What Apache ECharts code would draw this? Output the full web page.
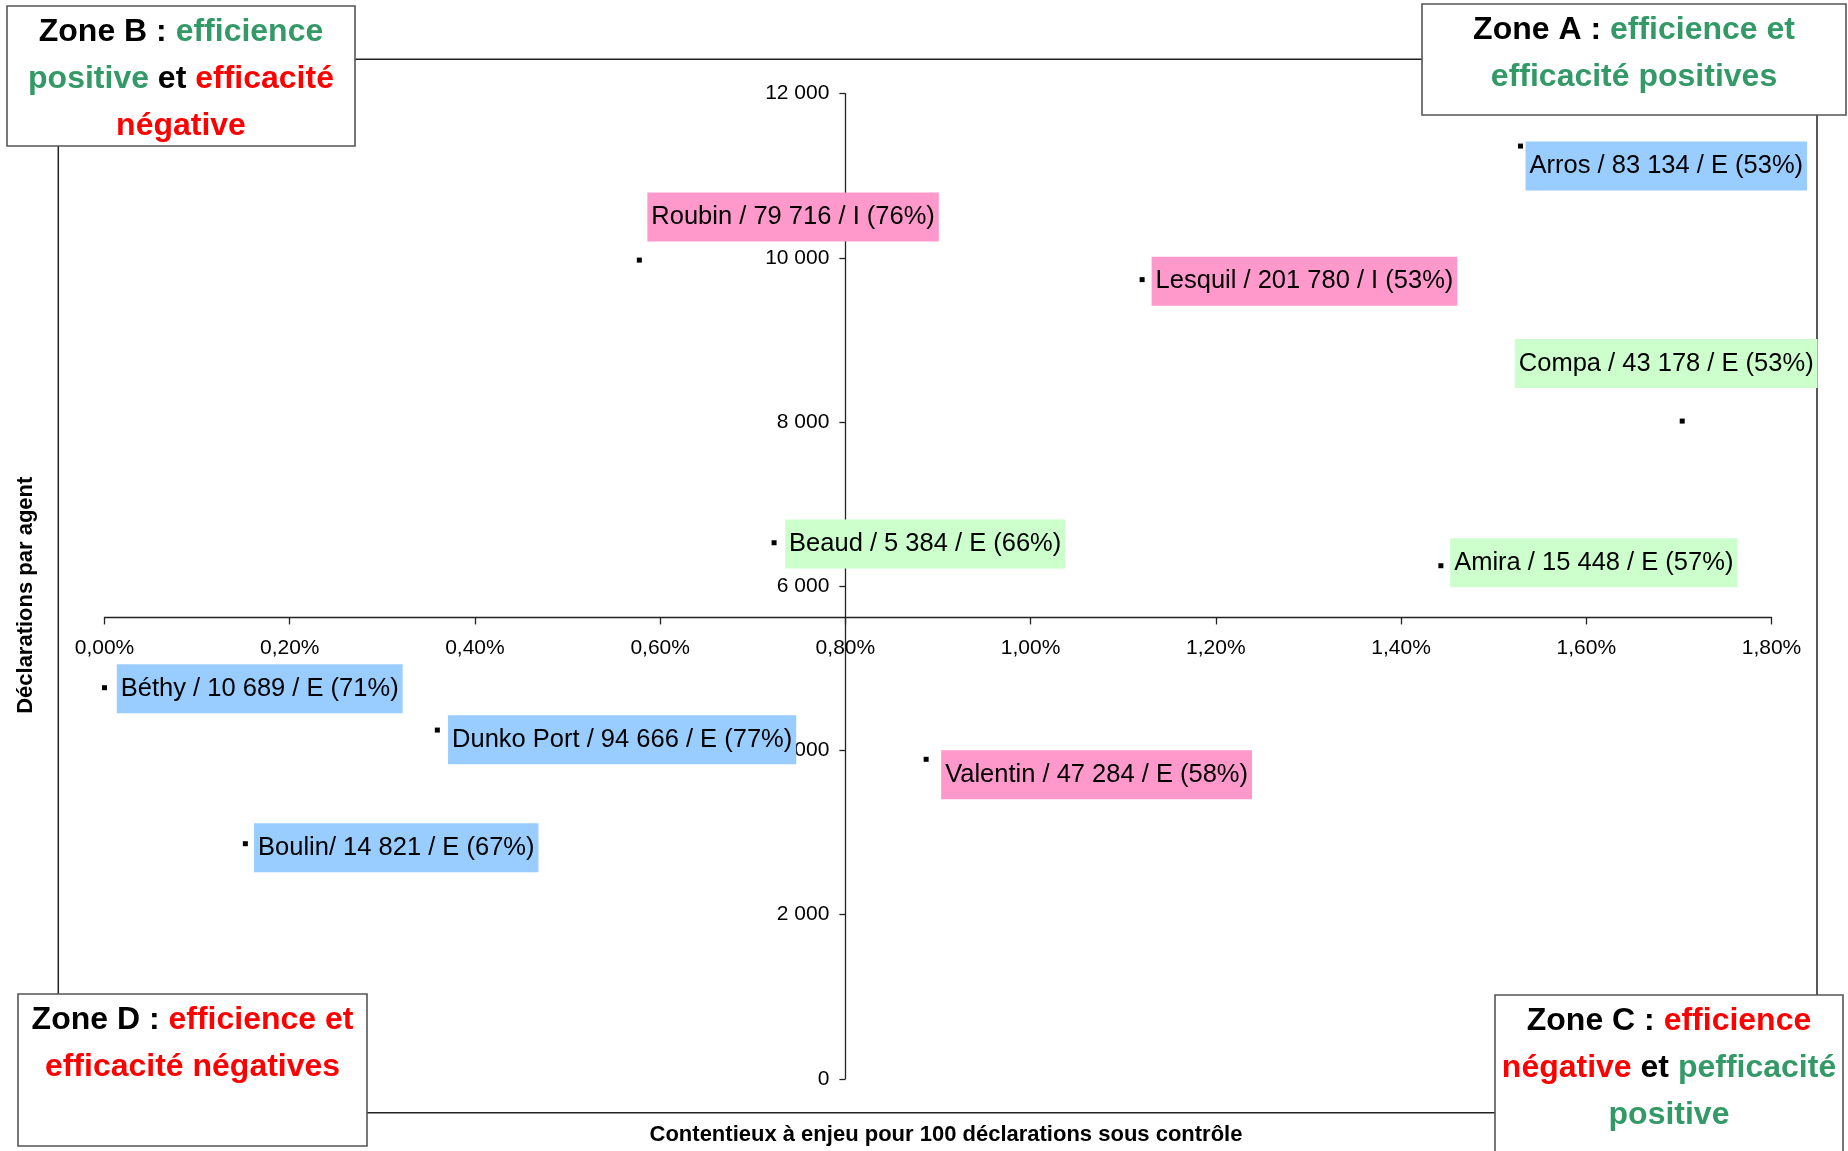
<!DOCTYPE html>
<html>
<head>
<meta charset="utf-8">
<script src="https://cdn.jsdelivr.net/npm/echarts@6/dist/echarts.min.js"></script>
<style>
  html, body { margin: 0; padding: 0; background: #fff; }
  #chart { width: 1848px; height: 1151px; }
</style>
</head>
<body>
<div id="chart"></div>
<script>
// Sites: contentieux à enjeu (%) vs déclarations par agent
const sites = ['Arros', 'Roubin', 'Lesquil', 'Compa', 'Beaud', 'Amira', 'Béthy', 'Dunko Port', 'Valentin', 'Boulin'];
const contentieux = [1.529, 0.5775, 1.1204, 1.7036, 0.723, 1.443, 0.0, 0.3594, 0.8872, 0.1521];
const declarations = [11362, 9973, 9735, 8012, 6530, 6250, 4764, 4248, 3892, 2864];
const etiquettes = [
  'Arros / 83 134 / E (53%)',
  'Roubin / 79 716 / I (76%)',
  'Lesquil / 201 780 / I (53%)',
  'Compa / 43 178 / E (53%)',
  'Beaud / 5 384 / E (66%)',
  'Amira / 15 448 / E (57%)',
  'Béthy / 10 689 / E (71%)',
  'Dunko Port / 94 666 / E (77%)',
  'Valentin / 47 284 / E (58%)',
  'Boulin/ 14 821 / E (67%)'
];
const groupes = ['bleu', 'rose', 'rose', 'vert', 'vert', 'vert', 'bleu', 'bleu', 'rose', 'bleu'];

// Axis ranges and the point where the two axes cross
const xBornes = [0, 1.8], xPas = 0.2;
const yBornes = [0, 12000], yPas = 2000;
const croisementX = 0.8;
const croisementY = 5620;

// Styling
const FONT = "'Liberation Sans', Arial, sans-serif";
const fonds = { bleu: '#99CCFF', rose: '#FF99CC', vert: '#CCFFCC' };
const VERT = '#339966', ROUGE = '#FF0000', NOIR = '#000000';

// Label placement around each point
const placements = [
  { pos: 'right', off: [2.5, 20] },
  { pos: 'right', off: [5.5, -43] },
  { pos: 'right', off: [7, 1.5] },
  { pos: 'top', off: [-16, -30.5] },
  { pos: 'right', off: [8.5, 1.3] },
  { pos: 'right', off: [6.8, -3] },
  { pos: 'right', off: [9.8, 1] },
  { pos: 'right', off: [8.2, 9.8] },
  { pos: 'right', off: [12.5, 15.5] },
  { pos: 'right', off: [6.2, 4] }
];

const fmtPct = v => v.toFixed(2).replace('.', ',') + '%';
const fmtMilliers = v => String(Math.round(v)).replace(/\B(?=(\d{3})+(?!\d))/g, ' ');

const points = sites.map((s, i) => ({
  name: s,
  value: [contentieux[i], declarations[i]],
  label: {
    position: placements[i].pos,
    offset: placements[i].off,
    backgroundColor: fonds[groupes[i]]
  }
}));

// Zone boxes drawn in the corners of the frame
const richZone = {
  k: { fill: NOIR, font: 'bold 32px ' + FONT, lineHeight: 47 },
  v: { fill: VERT, font: 'bold 32px ' + FONT, lineHeight: 47 },
  r: { fill: ROUGE, font: 'bold 32px ' + FONT, lineHeight: 47 }
};
function zoneBox(x, y, w, h, text) {
  return {
    type: 'group',
    children: [
      { type: 'rect', z: 30, shape: { x: x, y: y, width: w, height: h },
        style: { fill: '#fff', stroke: '#555', lineWidth: 1.6 } },
      { type: 'text', z: 31,
        style: { x: x + w / 2, y: y + 3, text: text, rich: richZone,
                 align: 'center', verticalAlign: 'top', font: 'bold 32px ' + FONT, fill: NOIR } }
    ]
  };
}

const axisLineStyle = { color: '#222', width: 1.3 };

const chart = echarts.init(document.getElementById('chart'), null, { renderer: 'canvas' });
chart.setOption({
  animation: false,
  backgroundColor: '#fff',
  textStyle: { fontFamily: FONT },
  grid: { left: 104.5, right: 76.5, top: 93.7, bottom: 72.2, containLabel: false, outerBoundsMode: 'none' },
  xAxis: {
    type: 'value', min: xBornes[0], max: xBornes[1], interval: xPas, position: 'bottom',
    axisLine: { show: true, onZero: false, lineStyle: axisLineStyle },
    axisTick: { show: true, inside: false, length: 7, lineStyle: axisLineStyle },
    axisLabel: { formatter: fmtPct, fontSize: 21, color: NOIR, margin: 20, fontFamily: FONT },
    splitLine: { show: false },
    name: 'Contentieux à enjeu pour 100 déclarations sous contrôle',
    nameLocation: 'middle', nameGap: 506,
    nameTextStyle: { fontWeight: 'bold', fontSize: 22, color: NOIR, fontFamily: FONT, padding: [0, 0, 0, 16] }
  },
  yAxis: {
    type: 'value', min: yBornes[0], max: yBornes[1], interval: yPas, position: 'left',
    axisLine: { show: true, onZero: false, lineStyle: axisLineStyle },
    axisTick: { show: true, inside: false, length: 6, lineStyle: axisLineStyle },
    axisLabel: { formatter: fmtMilliers, fontSize: 21, color: NOIR, margin: 16, fontFamily: FONT },
    splitLine: { show: false },
    name: 'Déclarations par agent',
    nameLocation: 'middle', nameGap: 808, nameRotate: 90,
    nameTextStyle: { fontWeight: 'bold', fontSize: 22, color: NOIR, fontFamily: FONT, padding: [0, 18, 0, 0] }
  },
  series: [{
    type: 'scatter',
    symbol: 'rect', symbolSize: 5,
    itemStyle: { color: NOIR, opacity: 1 },
    silent: true,
    emphasis: { disabled: true },
    z: 5,
    label: {
      show: true,
      distance: 0,
      opacity: 1,
      formatter: p => etiquettes[p.dataIndex],
      fontSize: 25.5, fontFamily: FONT, color: NOIR,
      lineHeight: 29, padding: [10, 4, 10, 4]
    },
    data: points
  }],
  graphic: [
    { type: 'rect', z: 1, shape: { x: 58.3, y: 59.3, width: 1758.7, height: 1053.4 },
      style: { fill: 'none', stroke: '#222', lineWidth: 1.5 } },
    zoneBox(7, 6, 348, 140, '{k|Zone B : }{v|efficience}\n{v|positive }{k|et }{r|efficacité}\n{r|négative}'),
    zoneBox(1422, 4, 424, 111, '{k|Zone A : }{v|efficience et}\n{v|efficacité positives}'),
    zoneBox(18, 994, 349, 152, '{k|Zone D : }{r|efficience et}\n{r|efficacité négatives}'),
    zoneBox(1495, 995, 348, 170, '{k|Zone C : }{r|efficience}\n{r|négative }{k|et }{v|pefficacité}\n{v|positive}')
  ]
});

// Move both axes so they cross at (croisementX, croisementY)
const coin = chart.convertToPixel({ xAxisIndex: 0, yAxisIndex: 0 }, [xBornes[0], yBornes[0]]);
const croix = chart.convertToPixel({ xAxisIndex: 0, yAxisIndex: 0 }, [croisementX, croisementY]);
chart.setOption({
  xAxis: { offset: croix[1] - coin[1] },
  yAxis: { offset: coin[0] - croix[0] }
});
</script>
</body>
</html>
